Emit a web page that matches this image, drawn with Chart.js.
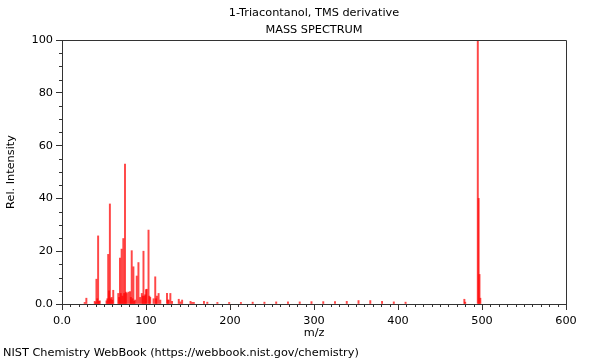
<!DOCTYPE html>
<html>
<head>
<meta charset="utf-8">
<script src="https://cdn.jsdelivr.net/npm/chart.js@4.4.1/dist/chart.umd.min.js"></script>
<style>
  html, body { margin: 0; padding: 0; background: #fff; }
</style>
</head>
<body>
<canvas id="spectrum" width="600" height="360"></canvas>
<script>
// peaks (m/z, relative intensity)
const massToCharge = [
  27, 29, 39, 40, 41, 42, 43, 44, 45, 53, 54, 55, 56, 57, 58, 59, 60, 61,
  67, 68, 69, 70, 71, 72, 73, 74, 75, 76, 77, 79, 81, 82, 83, 84, 85, 86,
  87, 89, 91, 93, 95, 96, 97, 98, 99, 100, 101, 103, 104, 105, 109, 111,
  112, 113, 115, 117, 125, 126, 127, 129, 131, 139, 141, 143, 153, 155,
  157, 169, 173, 185, 199, 213, 227, 241, 255, 269, 283, 297, 311, 325,
  339, 353, 367, 381, 395, 409, 479, 480, 495, 496, 497, 498
];
const intensity = [
  0.6, 2.2, 1.0, 0.5, 9.4, 2.0, 25.8, 1.0, 1.2, 1.2, 2.0, 18.8, 5.0, 37.9, 2.0, 2.5, 1.5, 5.2,
  4.0, 2.5, 17.4, 4.0, 20.8, 3.0, 24.8, 4.0, 53.0, 4.5, 4.0, 4.5, 4.7, 2.5, 20.2, 2.0, 14.1, 1.0,
  1.5, 10.6, 15.7, 2.5, 4.0, 3.0, 20.0, 3.0, 3.5, 5.5, 5.6, 28.0, 3.0, 2.5, 2.0, 10.3,
  2.0, 3.0, 4.0, 1.5, 4.0, 1.5, 1.5, 4.0, 1.0, 1.8, 0.8, 1.5, 1.0, 0.6,
  0.6, 1.0, 0.7, 0.6, 0.6, 0.6, 0.7, 0.7, 0.8, 0.8, 0.8, 0.9, 0.9, 0.9,
  1.0, 1.3, 1.3, 1.0, 0.8, 0.7, 1.8, 0.7, 100, 40.0, 11.2, 2.2
];

const titleLines = ['1-Triacontanol, TMS derivative', 'MASS SPECTRUM'];
const xAxisTitle = 'm/z';
const yAxisTitle = 'Rel. Intensity';
const footerText = 'NIST Chemistry WebBook (https://webbook.nist.gov/chemistry)';

const font = { family: '"DejaVu Sans", sans-serif', size: 11.3, weight: 'normal' };
const axisColor = '#333';

const peaks = massToCharge.map((mz, i) => ({ x: mz, y: intensity[i] }));

function zeroLabel(value) {
  return value === 0 ? '0.0' : value;
}

// box around the plot, short minor ticks and the source line
const decorations = {
  id: 'decorations',
  afterDraw(chart) {
    const { ctx, chartArea, scales } = chart;
    ctx.save();
    ctx.strokeStyle = axisColor;
    ctx.lineWidth = 1;
    ctx.beginPath();
    ctx.moveTo(chartArea.left, chartArea.top + 0.5);
    ctx.lineTo(chartArea.right + 0.5, chartArea.top + 0.5);
    ctx.lineTo(chartArea.right + 0.5, chartArea.bottom);
    for (let v = 0; v <= 600; v += 10) {
      if (v % 100 === 0) continue;
      const px = Math.round(scales.x.getPixelForValue(v)) + 0.5;
      ctx.moveTo(px, chartArea.bottom);
      ctx.lineTo(px, chartArea.bottom + 3);
    }
    for (let v = 0; v <= 100; v += 5) {
      if (v % 20 === 0) continue;
      const py = Math.round(scales.y.getPixelForValue(v)) + 0.5;
      ctx.moveTo(chartArea.left, py);
      ctx.lineTo(chartArea.left - 3, py);
    }
    ctx.stroke();

    ctx.fillStyle = '#000';
    ctx.font = `${font.size}px ${font.family}`;
    ctx.textBaseline = 'middle';
    ctx.textAlign = 'left';
    ctx.fillText(footerText, 3, 353);
    ctx.restore();
  },
};

new Chart(document.getElementById('spectrum'), {
  type: 'bar',
  data: {
    datasets: [
      {
        data: peaks,
        backgroundColor: 'rgba(255, 0, 0, 0.72)',
        borderWidth: 0,
        barThickness: 1.3,
      },
    ],
  },
  options: {
    responsive: false,
    animation: false,
    devicePixelRatio: 1,
    layout: { padding: { top: 0, right: 34, bottom: 0, left: 0 } },
    plugins: {
      legend: { display: false },
      tooltip: { enabled: false },
      title: {
        display: true,
        text: titleLines,
        fullSize: false,
        color: '#000',
        font: { ...font, lineHeight: '17px' },
        padding: { top: 5, bottom: 1 },
      },
    },
    scales: {
      x: {
        type: 'linear',
        min: 0,
        max: 600,
        offset: false,
        afterFit(scale) {
          scale.height = 56;
        },
        ticks: {
          stepSize: 100,
          color: '#000',
          font: font,
          padding: 4,
          maxRotation: 0,
          callback: zeroLabel,
        },
        grid: {
          drawOnChartArea: false,
          tickLength: 6,
          color: axisColor,
          offset: false,
        },
        border: { color: axisColor },
        title: {
          display: true,
          text: xAxisTitle,
          color: '#000',
          font: font,
          padding: { top: 0, bottom: 20 },
        },
      },
      y: {
        min: 0,
        max: 100,
        afterFit(scale) {
          scale.width = 62;
        },
        ticks: {
          stepSize: 20,
          color: '#000',
          font: font,
          padding: 3,
          callback: zeroLabel,
        },
        grid: {
          drawOnChartArea: false,
          tickLength: 6,
          color: axisColor,
        },
        border: { color: axisColor },
        title: {
          display: true,
          text: yAxisTitle,
          color: '#000',
          font: font,
          padding: { top: 4, bottom: 0 },
        },
      },
    },
  },
  plugins: [decorations],
});
</script>
</body>
</html>
